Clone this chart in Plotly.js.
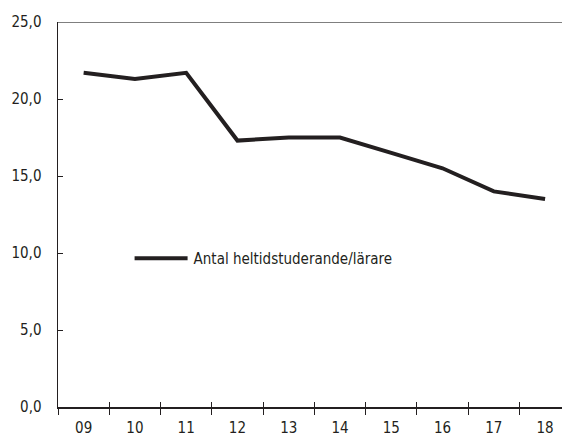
<!DOCTYPE html>
<html>
<head>
<meta charset="utf-8">
<script src="https://cdn.plot.ly/plotly-3.0.1.min.js"></script>
<style>html,body{margin:0;padding:0;background:#fff;}#chart{width:562px;height:437px;}</style>
</head>
<body>
<div id="chart"></div>
<script>
const years = ["09","10","11","12","13","14","15","16","17","18"];
const studentsPerTeacher = [21.7, 21.3, 21.7, 17.3, 17.5, 17.5, 16.5, 15.5, 14.0, 13.5];
const seriesName = "Antal heltidstuderande/lärare";
const yTickVals = [0, 5, 10, 15, 20, 25];
const yTickText = ["0,0", "5,0", "10,0", "15,0", "20,0", "25,0"];

const fontFam = '"Liberation Sans Narrow", "DejaVu Sans Condensed", "Arial Narrow", sans-serif';
const xRange = [-0.5, 9.33];

const traces = [
  {
    x: years, y: studentsPerTeacher, type: "scatter", mode: "lines",
    name: seriesName,
    line: {color: "#231f20", width: 4, shape: "linear"},
    showlegend: true
  },
  {
    x: years, y: studentsPerTeacher, type: "scatter", mode: "none",
    xaxis: "x2", yaxis: "y", showlegend: false, hoverinfo: "skip"
  }
];

const layout = {
  width: 562, height: 437,
  margin: {l: 58, r: 0, t: 22, b: 30},
  paper_bgcolor: "#fff", plot_bgcolor: "#fff",
  font: {family: fontFam, size: 15, color: "#231f20"},
  showlegend: true,
  legend: {
    x: 0.146, y: 0.386, xanchor: "left", yanchor: "middle",
    bgcolor: "rgba(0,0,0,0)", borderwidth: 0, itemwidth: 52,
    font: {family: fontFam, size: 15, color: "#231f20"}
  },
  xaxis: {
    type: "category", range: xRange,
    showline: true, linecolor: "#231f20", linewidth: 1.5,
    ticks: "outside", ticklen: 6, tickwidth: 1, tickcolor: "#231f20",
    tickson: "boundaries",
    showgrid: false, zeroline: false,
    tickfont: {family: fontFam, size: 15, color: "#231f20"},
    ticklabelstandoff: 6,
    fixedrange: true
  },
  xaxis2: {
    type: "category", range: xRange, overlaying: "x", matches: "x",
    showline: false, ticks: "inside", ticklen: 5, tickwidth: 1, tickcolor: "#231f20",
    tickson: "boundaries", showticklabels: false,
    showgrid: false, zeroline: false, fixedrange: true
  },
  yaxis: {
    range: [0, 25], tickvals: yTickVals, ticktext: yTickText,
    showline: true, linecolor: "#231f20", linewidth: 1.5,
    ticks: "inside", ticklen: 5, tickwidth: 1, tickcolor: "#231f20",
    showgrid: false, zeroline: false,
    tickfont: {family: fontFam, size: 15, color: "#231f20"},
    ticklabelstandoff: 12,
    fixedrange: true
  },
  shapes: [
    {type: "line", xref: "paper", yref: "y", x0: 0, x1: 1, y0: 25, y1: 25,
     line: {color: "#555", width: 1.5}}
  ]
};

Plotly.newPlot("chart", traces, layout, {displayModeBar: false, staticPlot: true}).then(function (gd) {
  // stretch the legend line sample across the whole item width
  gd.querySelectorAll(".legend .legendlines path").forEach(function (p) {
    p.setAttribute("d", "M3,0h53");
  });
});
</script>
</body>
</html>
